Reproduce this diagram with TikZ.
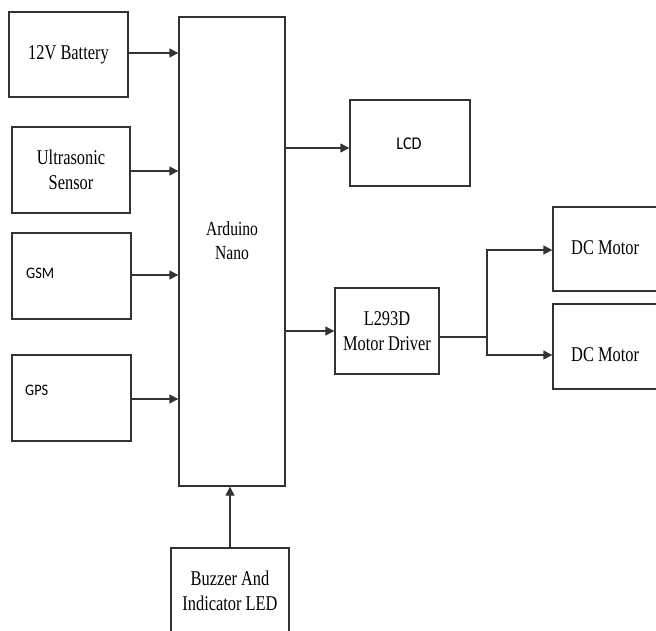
\documentclass[tikz,border=0pt]{standalone}
\usepackage{fontspec}
\setmainfont[FakeStretch=0.78]{Liberation Serif}
\newfontfamily\calib[FakeStretch=0.9]{Carlito}
\usetikzlibrary{arrows.meta}
\begin{document}
\begin{tikzpicture}[x=1pt,y=-1pt,
  blk/.style={draw=black!80,line width=1.4pt,fill=none,inner sep=0pt,align=center,
    font=\fontsize{21}{25}\selectfont},
  lbl/.style={inner sep=0pt,align=center},
  arr/.style={draw=black!80,line width=1.4pt,-{Triangle[length=9pt,width=9pt]}},
  wire/.style={draw=black!80,line width=1.4pt}]
\clip (0,0) rectangle (656,631);
\fill[white] (0,0) rectangle (656,631);
% left column
\node[blk,minimum width=119pt,minimum height=85pt] (bat) at (68.5,54.5) {12V Battery};
\node[blk,minimum width=118pt,minimum height=86pt] (ult) at (71,170) {Ultrasonic\\Sensor};
\node[blk,minimum width=119pt,minimum height=86pt] (gsm) at (71.5,276) {};
\node[lbl,anchor=west,font=\calib\fontsize{16}{19}\selectfont] (gsmlbl) at (26,273) {GSM};
\node[blk,minimum width=119pt,minimum height=86pt] (gps) at (71.5,398) {};
\node[lbl,anchor=west,font=\calib\fontsize{16}{19}\selectfont] (gpslbl) at (25,390) {GPS};
% Arduino
\node[blk,minimum width=106pt,minimum height=469pt] (ard) at (232,251.5) {};
\node[lbl,font=\fontsize{20}{24}\selectfont] (ardlbl) at (232,241) {Arduino\\Nano};
% Buzzer
\node[blk,minimum width=118pt,minimum height=86pt] (buz) at (230,591) {Buzzer And\\Indicator LED};
% right side
\node[blk,minimum width=120pt,minimum height=86pt] (lcd) at (410,143) {};
\node[lbl,font=\calib\fontsize{18}{21}\selectfont] (lcdlbl) at (409,144) {LCD};
\node[blk,minimum width=104pt,minimum height=86pt] (drv) at (387,331) {L293D\\Motor Driver};
\node[blk,minimum width=120pt,minimum height=84pt] (dc1) at (613,249) {};
\node[lbl,anchor=west,font=\fontsize{21}{25}\selectfont] (dc1lbl) at (571,248) {DC Motor};
\node[blk,minimum width=120pt,minimum height=85pt] (dc2) at (613,346.5) {};
\node[lbl,anchor=west,font=\fontsize{21}{25}\selectfont] (dc2lbl) at (571,355) {DC Motor};
\coordinate (j) at (487,337);
% connectors
\draw[arr] (bat.east |- 0,53) -- (ard.west |- 0,53);
\draw[arr] (ult.east |- 0,171) -- (ard.west |- 0,171);
\draw[arr] (gsm.east |- 0,275) -- (ard.west |- 0,275);
\draw[arr] (gps.east |- 0,399) -- (ard.west |- 0,399);
\draw[arr] (buz.north) -- (buz.north |- ard.south);
\draw[arr] (ard.east |- 0,148) -- (lcd.west |- 0,148);
\draw[arr] (ard.east |- 0,331) -- (drv.west |- 0,331);
\draw[wire] (drv.east |- j) -- (j);
\draw[arr] (j) |- (dc1.west |- 0,250);
\draw[arr] (j) |- (dc2.west |- 0,355);
\end{tikzpicture}
\end{document}
